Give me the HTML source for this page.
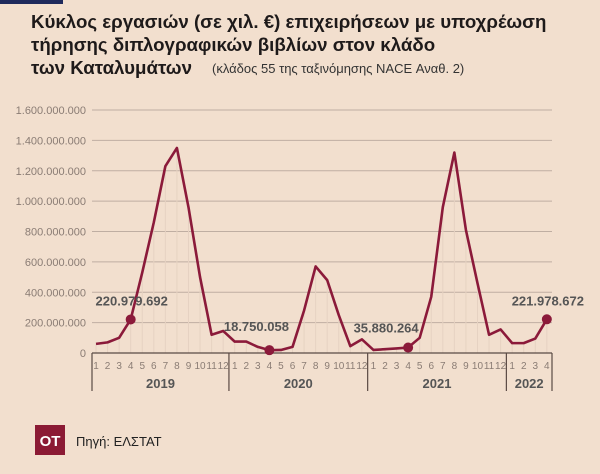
<!DOCTYPE html>
<html><head><meta charset="utf-8"><style>
body{margin:0;width:600px;height:474px;background:#f2dfce;overflow:hidden;font-family:"Liberation Sans",sans-serif;}
</style></head><body>
<svg width="600" height="474" style="position:absolute;left:0;top:0">
<rect x="0" y="0" width="63" height="4" fill="#1f2a5c"/>
<g font-weight="bold" font-size="18.7" fill="#1e1a1a">
<text x="31" y="28">Κύκλος εργασιών (σε χιλ. €) επιχειρήσεων με υποχρέωση</text>
<text x="31" y="51">τήρησης διπλογραφικών βιβλίων στον κλάδο</text>
<text x="31" y="74">των Καταλυμάτων</text>
<text x="212" y="73" font-weight="normal" font-size="13" fill="#333">(κλάδος 55 της ταξινόμησης NACE Αναθ. 2)</text>
</g>
<g id="grid"></g><g id="xax"></g><g id="series"></g>
<rect x="35" y="425" width="30" height="30" fill="#8b1a34"/>
<text x="50" y="446" text-anchor="middle" font-size="15" font-weight="bold" fill="#fff">ΟΤ</text>
<text x="76" y="446" font-size="13" fill="#222">Πηγή: ΕΛΣΤΑΤ</text>
</svg>
<script>
const years=["2019","2020","2021","2022"];
const monthsPerYear=[12,12,12,4];
const values=[60,70,100,220.98,530,860,1230,1350,960,500,120,145,
75,75,40,18.75,20,40,280,570,480,250,45,90,
20,25,30,35.88,100,370,960,1320,810,460,120,155,
65,65,95,221.98];
const yTicks=[0,200,400,600,800,1000,1200,1400,1600];
const tickLabels=["0","200.000.000","400.000.000","600.000.000","800.000.000","1.000.000.000","1.200.000.000","1.400.000.000","1.600.000.000"];
const highlights=[{i:3,label:"220.979.692"},{i:15,label:"18.750.058"},{i:27,label:"35.880.264"},{i:39,label:"221.978.672"}];
const NS="http://www.w3.org/2000/svg";
const L=92,R=552,Y0=353,Y1=110,X0=96,DX=11.56;
const y=v=>Y0-(v/1600)*(Y0-Y1);
const x=i=>X0+i*DX;
function mk(t,a,p){const e=document.createElementNS(NS,t);for(const k in a)e.setAttribute(k,a[k]);p.appendChild(e);return e;}
const grid=document.getElementById('grid'),xax=document.getElementById('xax'),ser=document.getElementById('series');
yTicks.forEach((t,k)=>{
 if(t>0){const g=mk('line',{x1:L,x2:R,y1:y(t),y2:y(t),stroke:'#bfaea2','stroke-width':1},grid);
 
 }
 const tx=mk('text',{x:86,y:y(t)+4,'text-anchor':'end','font-size':11,fill:'#8a7c74'},grid);tx.textContent=tickLabels[k];
 
 
});
values.forEach((v,i)=>{const l=mk('line',{x1:x(i),x2:x(i),y1:y(v),y2:Y0,stroke:'#e6d2c2','stroke-width':1},grid);
 
 });
mk('line',{x1:L,x2:R,y1:Y0,y2:Y0,stroke:'#5a4a44','stroke-width':1.2},xax);
let idx=0,bounds=[L];
monthsPerYear.forEach((n,yi)=>{
 for(let m=1;m<=n;m++){const t=mk('text',{x:x(idx),y:369,'text-anchor':'middle','font-size':10,fill:'#8a7c74'},xax);t.textContent=m;
 
 idx++;}
 const end=yi<monthsPerYear.length-1?x(idx)-DX/2:R;
 const start=bounds[bounds.length-1];bounds.push(end);
 const yl=mk('text',{x:(start+end)/2,y:388,'text-anchor':'middle','font-size':13,'font-weight':'bold',fill:'#555'},xax);yl.textContent=years[yi];
 
 
});
bounds.forEach(b=>mk('line',{x1:b,x2:b,y1:Y0,y2:391,stroke:'#5a4a44','stroke-width':1.2},xax));
const p=mk('polyline',{points:values.map((v,i)=>x(i)+','+y(v)).join(' '),fill:'none',stroke:'#8b1a3a','stroke-width':2.6,'stroke-linejoin':'round'},ser);


const labelDx=[1,-13,-22,1],labelDy=[-14,-19,-15,-14];
highlights.forEach((h,k)=>{
 const c=mk('circle',{cx:x(h.i),cy:y(values[h.i]),r:5,fill:'#8b1a3a'},ser);
 
 
 const t=mk('text',{x:x(h.i)+labelDx[k],y:y(values[h.i])+labelDy[k],'text-anchor':'middle','font-size':13,'font-weight':'bold',fill:'#555'},ser);t.textContent=h.label;
 
 
});
</script>
</body></html>
